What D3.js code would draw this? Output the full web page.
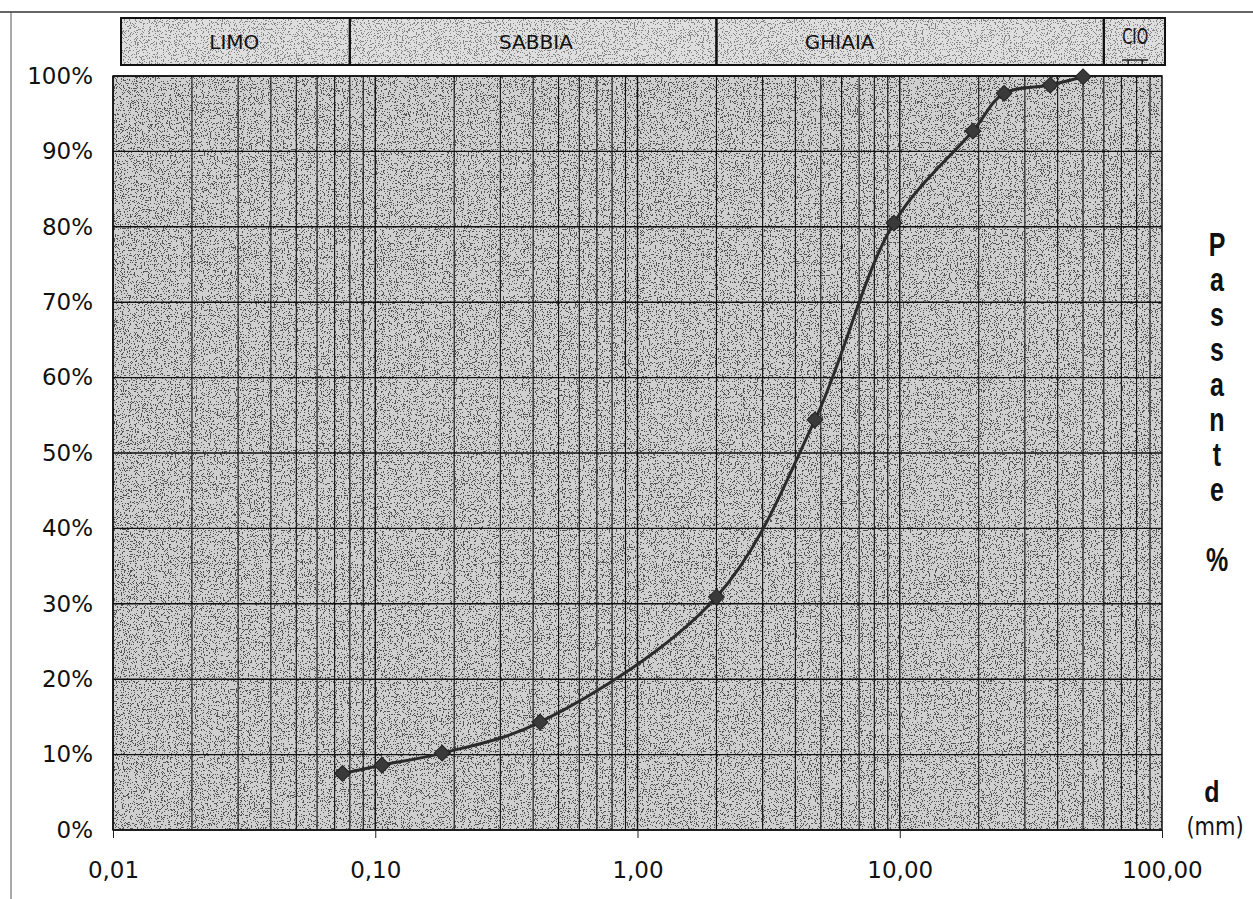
<!DOCTYPE html>
<html>
  <head>
    <meta charset="utf-8" />
    <script src="https://d3js.org/d3.v7.min.js"></script>
    <title>Curva granulometrica</title>
    <style>
      body {
        margin: 0px;
        background: #fff;
        font-family: 'DejaVu Sans', sans-serif;
      }
      .domain {
        display: none;
      }
      .tick text {
        fill: #111;
        font-size: 23px;
        font-family: 'DejaVu Sans', sans-serif;
      }
      .tick line {
        stroke: #222;
      }
      .band-label {
        font-size: 20px;
        fill: #111;
        text-anchor: middle;
      }
      .side-label {
        font-family: 'Liberation Sans', sans-serif;
        font-size: 25px;
        font-weight: bold;
        fill: #111;
        text-anchor: middle;
      }
    </style>
  </head>
  <body>
    <script>
      // sieve sizes (mm) and percent passing
      const diameters = [0.075, 0.106, 0.18, 0.425, 2.0, 4.75, 9.5, 19, 25, 37.5, 50];
      const passing = [0.075, 0.086, 0.102, 0.143, 0.309, 0.544, 0.805, 0.927, 0.977, 0.988, 0.999];

      // soil classes along the top band
      const classNames = ['LIMO', 'SABBIA', 'GHIAIA', 'CIO'];
      const classBounds = [0.0107, 0.08, 2, 60, 100];
      const classLabelAt = [0.029, 0.41, 5.9, 79];

      const xTicks = [0.01, 0.1, 1, 10, 100];
      const yTicks = d3.range(0, 11).map((d) => d / 10);
      const sideLetters = ['P', 'a', 's', 's', 'a', 'n', 't', 'e', '', '%'];

      const width = 1253;
      const height = 899;
      const plot = { left: 113, right: 1162, top: 76, bottom: 830 };
      const band = { top: 18, bottom: 65 };

      const svg = d3
        .select('body')
        .append('svg')
        .attr('width', width)
        .attr('height', height);

      const defs = svg.append('defs');
      const grain = (id, cut, alpha, seed) => {
        const f = defs
          .append('filter')
          .attr('id', id)
          .attr('x', 0)
          .attr('y', 0)
          .attr('width', '100%')
          .attr('height', '100%');
        f.append('feTurbulence')
          .attr('type', 'fractalNoise')
          .attr('baseFrequency', 0.85)
          .attr('numOctaves', 2)
          .attr('seed', seed);
        f.append('feColorMatrix')
          .attr('type', 'matrix')
          .attr('values', '0 0 0 0 0  0 0 0 0 0  0 0 0 0 0  1 0 0 0 0');
        const table = d3.range(10).map((i) => (i < cut ? alpha : 0)).join(' ');
        f.append('feComponentTransfer')
          .append('feFuncA')
          .attr('type', 'discrete')
          .attr('tableValues', table);
      };
      grain('grainPlot', 4, 0.6, 4);
      grain('grainBand', 4, 0.4, 9);

      const x = d3.scaleLog().domain([0.01, 100]).range([plot.left, plot.right]);
      const y = d3.scaleLinear().domain([0, 1]).range([plot.bottom, plot.top]);

      // outer frame
      svg.append('line')
        .attr('x1', 0).attr('x2', width)
        .attr('y1', 12).attr('y2', 12)
        .attr('stroke', '#333').attr('stroke-width', 1.5);
      svg.append('line')
        .attr('x1', 11).attr('x2', 11)
        .attr('y1', 12).attr('y2', height)
        .attr('stroke', '#555').attr('stroke-width', 1);

      // top band with soil classes
      const cellX = (i) => (i === 0 ? plot.left + 8 : x(classBounds[i]));
      const cellW = (i) => x(classBounds[i + 1]) + (i === 3 ? 3 : 0) - cellX(i);
      const bandG = svg.append('g');
      bandG.selectAll('rect.base')
        .data(classNames)
        .join('rect')
        .attr('class', 'base')
        .attr('x', (d, i) => cellX(i))
        .attr('width', (d, i) => cellW(i))
        .attr('y', band.top)
        .attr('height', band.bottom - band.top)
        .attr('fill', '#dedede');
      bandG.append('rect')
        .attr('x', plot.left + 8)
        .attr('width', x(100) + 3 - plot.left - 8)
        .attr('y', band.top)
        .attr('height', band.bottom - band.top)
        .attr('filter', 'url(#grainBand)');
      bandG.selectAll('rect.cell')
        .data(classNames)
        .join('rect')
        .attr('class', 'cell')
        .attr('x', (d, i) => cellX(i))
        .attr('width', (d, i) => cellW(i))
        .attr('y', band.top)
        .attr('height', band.bottom - band.top)
        .attr('fill', 'none')
        .attr('stroke', '#111')
        .attr('stroke-width', 2);
      bandG.selectAll('text')
        .data(classNames)
        .join('text')
        .attr('class', 'band-label')
        .attr('x', (d, i) => x(classLabelAt[i]))
        .attr('y', (d, i) => (i === 3 ? 44 : 49))
        .style('font-size', (d, i) => (i === 3 ? '21px' : null))
        .attr('textLength', (d, i) => (i === 3 ? 26 : null))
        .attr('lengthAdjust', (d, i) => (i === 3 ? 'spacingAndGlyphs' : null))
        .text((d) => d);
      const cx = x(classLabelAt[3]);
      bandG.append('path')
        .attr('d', `M${cx - 13},60 H${cx + 13} M${cx - 7},60 v4 M${cx + 7},60 v4`)
        .attr('stroke', '#222')
        .attr('stroke-width', 1.5)
        .attr('fill', 'none');

      // plot area background
      const g = svg.append('g');
      g.append('rect')
        .attr('x', plot.left)
        .attr('y', plot.top)
        .attr('width', plot.right - plot.left)
        .attr('height', plot.bottom - plot.top)
        .attr('fill', '#cfcfcf');
      g.append('rect')
        .attr('x', plot.left)
        .attr('y', plot.top)
        .attr('width', plot.right - plot.left)
        .attr('height', plot.bottom - plot.top)
        .attr('filter', 'url(#grainPlot)');

      // log grid: every 1..9 of each decade
      const vGrid = [];
      d3.range(-2, 2).forEach((e) => {
        d3.range(1, 10).forEach((k) => vGrid.push(k * Math.pow(10, e)));
      });
      g.selectAll('line.vgrid')
        .data(vGrid)
        .join('line')
        .attr('class', 'vgrid')
        .attr('x1', (d) => x(d))
        .attr('x2', (d) => x(d))
        .attr('y1', plot.top)
        .attr('y2', plot.bottom)
        .attr('stroke', '#111')
        .attr('stroke-width', (d) => (xTicks.includes(d) ? 1.4 : 1.1));
      g.selectAll('line.hgrid')
        .data(yTicks)
        .join('line')
        .attr('class', 'hgrid')
        .attr('x1', plot.left)
        .attr('x2', plot.right)
        .attr('y1', (d) => y(d))
        .attr('y2', (d) => y(d))
        .attr('stroke', '#111')
        .attr('stroke-width', 1.4);
      g.append('rect')
        .attr('x', plot.left)
        .attr('y', plot.top)
        .attr('width', plot.right - plot.left)
        .attr('height', plot.bottom - plot.top)
        .attr('fill', 'none')
        .attr('stroke', '#111')
        .attr('stroke-width', 1.5);

      // axes
      const xAxis = d3
        .axisBottom(x)
        .tickValues(xTicks)
        .tickSize(8)
        .tickPadding(24)
        .tickFormat((d) => d3.format('.2f')(d).replace('.', ','));
      svg.append('g')
        .attr('transform', `translate(0,${plot.bottom})`)
        .call(xAxis);

      const yAxis = d3
        .axisLeft(y)
        .tickValues(yTicks)
        .tickSize(0)
        .tickPadding(20)
        .tickFormat(d3.format('.0%'));
      svg.append('g')
        .attr('transform', `translate(${plot.left},0)`)
        .call(yAxis);

      // grading curve
      const data = diameters.map((d, i) => ({ d, p: passing[i] }));
      const line = d3
        .line()
        .x((d) => x(d.d))
        .y((d) => y(d.p))
        .curve(d3.curveCatmullRom.alpha(0.5));
      g.append('path')
        .attr('d', line(data))
        .attr('fill', 'none')
        .attr('stroke', '#2b2b2b')
        .attr('stroke-width', 3);
      g.selectAll('path.marker')
        .data(data)
        .join('path')
        .attr('class', 'marker')
        .attr('d', d3.symbol(d3.symbolSquare, 125))
        .attr('transform', (d) => `translate(${x(d.d)},${y(d.p)}) rotate(45)`)
        .attr('fill', '#3a3a3a')
        .attr('stroke', '#222')
        .attr('stroke-width', 1);

      // side labels, slightly stretched vertically like the scan
      svg.append('g')
        .selectAll('text')
        .data(sideLetters)
        .join('text')
        .attr('class', 'side-label')
        .attr('transform', (d, i) => `translate(1217,${256 + i * 35}) scale(1,1.3)`)
        .text((d) => d);
      svg.append('text')
        .attr('class', 'side-label')
        .attr('transform', 'translate(1212,802) scale(1,1.2)')
        .text('d');
      svg.append('text')
        .attr('class', 'side-label')
        .style('font-weight', 'normal')
        .style('font-family', "'DejaVu Sans', sans-serif")
        .style('font-size', '21px')
        .attr('transform', 'translate(1215,835) scale(1,1.15)')
        .text('(mm)');
    </script>
  </body>
</html>
